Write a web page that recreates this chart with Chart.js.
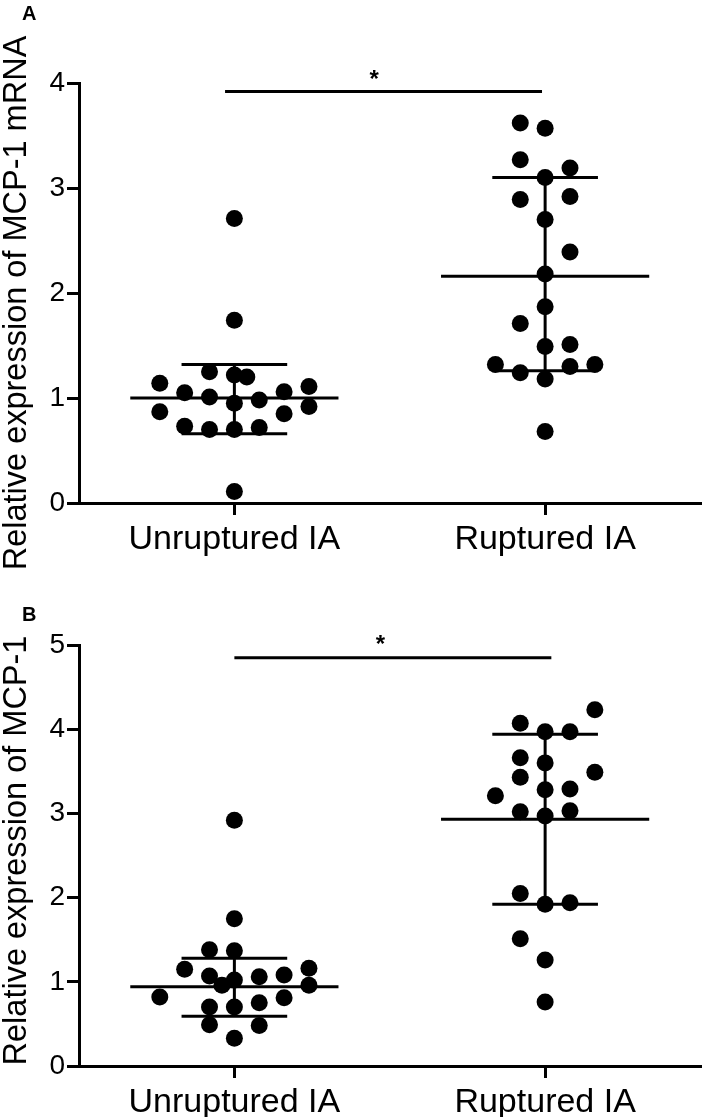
<!DOCTYPE html>
<html>
<head>
<meta charset="utf-8">
<script src="https://cdn.jsdelivr.net/npm/chart.js@4.4.1/dist/chart.umd.min.js"></script>
<style>
  html, body { margin: 0; padding: 0; background: #fff; }
  #wrap { position: relative; width: 709px; height: 1117px; }
  canvas { position: absolute; left: 0; }
  #chartA { top: 0; }
  #chartB { top: 559px; }
</style>
</head>
<body>
<div id="wrap">
  <canvas id="chartA" width="709" height="600"></canvas>
  <canvas id="chartB" width="709" height="558"></canvas>
</div>
<script>
// groups on the x axis
var groups = ["Unruptured IA", "Ruptured IA"];

// panel A - MCP-1 mRNA
var unrupA      = [2.71, 1.74, 1.25, 1.22, 1.20, 1.14, 1.11, 1.06, 1.05, 1.01, 0.98, 0.95, 0.92, 0.87, 0.85, 0.73, 0.72, 0.70, 0.70, 0.11];
var unrupASlot  = [0, 0, -1, 0, 0.5, -3, 3, 2, -2, -1, 1, 0, 3, -3, 2, -2, 1, -1, 0, 0];
var rupA        = [3.62, 3.57, 3.27, 3.19, 3.10, 2.92, 2.89, 2.70, 2.39, 2.18, 1.87, 1.71, 1.51, 1.49, 1.32, 1.32, 1.30, 1.24, 1.18, 0.68];
var rupASlot    = [-1, 0, -1, 1, 0, 1, -1, 0, 1, 0, 0, -1, 1, 0, -2, 2, 1, -1, 0, 0];
var meanA = [1.00, 2.16];
var sdHiA = [1.32, 3.10];
var sdLoA = [0.66, 1.26];

// panel B - MCP-1 protein
var unrupB      = [2.92, 1.75, 1.38, 1.37, 1.16, 1.15, 1.08, 1.07, 1.06, 1.02, 0.96, 0.96, 0.82, 0.81, 0.75, 0.70, 0.70, 0.49, 0.48, 0.33];
var unrupBSlot  = [0, 0, -1, 0, 3, -2, 2, -1, 1, 0, -0.5, 3, -3, 2, 1, -1, 0, -1, 1, 0];
var rupB        = [4.23, 4.07, 3.97, 3.97, 3.66, 3.60, 3.49, 3.43, 3.29, 3.28, 3.21, 3.03, 3.02, 2.97, 2.05, 1.94, 1.92, 1.51, 1.26, 0.76];
var rupBSlot    = [2, -1, 0, 1, -1, 0, 2, -1, 1, 0, -2, 1, -1, 0, -1, 1, 0, -1, 0, 0];
var meanB = [0.94, 2.93];
var sdHiB = [1.28, 3.94];
var sdLoB = [0.59, 1.92];

var yTicksA = [0, 1, 2, 3, 4];
var yTicksB = [0, 1, 2, 3, 4, 5];

var SLOT = 0.08;      // horizontal spacing of stacked dots, in group units
var MEAN_HALF = 0.335;
var CAP_HALF = 0.17;
var FONT = '"Liberation Sans", Arial, sans-serif';

function dots(vals, slots, g) {
    return vals.map(function (v, i) { return { x: g + slots[i] * SLOT, y: v }; });
}

function seg(x1, y1, x2, y2) {
    return {
        type: 'line',
        data: [{ x: x1, y: y1 }, { x: x2, y: y2 }],
        borderColor: '#000',
        borderWidth: 3,
        pointRadius: 0,
        fill: false,
        clip: false
    };
}

// panel letter, y title and the significance star
var notes = {
    id: 'notes',
    afterDatasetsDraw: function (chart, args, o) {
        var ctx = chart.ctx, x = chart.scales.x, y = chart.scales.y;
        ctx.save();
        ctx.fillStyle = '#000';
        ctx.font = 'bold 20px ' + FONT;
        ctx.textBaseline = 'alphabetic';
        ctx.textAlign = 'left';
        ctx.fillText(o.panel, 22, o.panelBase);

        ctx.font = 'bold 24px ' + FONT;
        ctx.textAlign = 'center';
        ctx.fillText('*', x.getPixelForValue(o.starX), y.getPixelForValue(o.starY) + 14);

        ctx.save();
        ctx.translate(26, (y.top + y.bottom) / 2 + o.titleShift);
        ctx.rotate(-Math.PI / 2);
        ctx.font = '32.5px ' + FONT;
        ctx.fillText(o.title, 0, 0);
        ctx.restore();
        ctx.restore();
    }
};

function makeChart(id, d) {
    var ds = [
        { type: 'scatter', data: dots(d.unrup, d.unrupSlot, 0), backgroundColor: '#000', borderWidth: 0, pointRadius: 8.5, clip: false },
        { type: 'scatter', data: dots(d.rup, d.rupSlot, 1), backgroundColor: '#000', borderWidth: 0, pointRadius: 8.5, clip: false }
    ];
    for (var g = 0; g < 2; g++) {
        ds.push(seg(g - MEAN_HALF, d.mean[g], g + MEAN_HALF, d.mean[g]));
        ds.push(seg(g - CAP_HALF, d.hi[g], g + CAP_HALF, d.hi[g]));
        ds.push(seg(g - CAP_HALF, d.lo[g], g + CAP_HALF, d.lo[g]));
        ds.push(seg(g, d.lo[g], g, d.hi[g]));
    }
    ds.push(seg(d.sigFrom, d.sigY, d.sigTo, d.sigY));

    return new Chart(document.getElementById(id), {
        type: 'scatter',
        data: { datasets: ds },
        plugins: [notes],
        options: {
            responsive: false,
            devicePixelRatio: 1,
            animation: false,
            layout: { padding: { top: d.padTop, right: 2, left: 0, bottom: 0 } },
            plugins: {
                legend: { display: false },
                tooltip: { enabled: false },
                notes: { panel: d.panel, panelBase: d.panelBase, starX: d.starX, starY: d.starY,
                         title: d.title, titleShift: d.titleShift }
            },
            scales: {
                x: {
                    type: 'linear',
                    min: -0.5,
                    max: 1.5,
                    afterBuildTicks: function (s) { s.ticks = [{ value: 0 }, { value: 1 }]; },
                    afterFit: function (s) { s.height = d.xHeight; },
                    ticks: {
                        callback: function (v) { return groups[v]; },
                        color: '#000',
                        font: { family: FONT, size: 34 },
                        padding: 4,
                        maxRotation: 0
                    },
                    grid: { drawOnChartArea: false, color: '#000', lineWidth: 3, tickLength: 12 },
                    border: { display: true, color: '#000', width: 3 }
                },
                y: {
                    min: 0,
                    max: d.yTicks[d.yTicks.length - 1],
                    afterBuildTicks: function (s) { s.ticks = d.yTicks.map(function (v) { return { value: v }; }); },
                    afterFit: function (s) { s.width = 79; },
                    ticks: {
                        color: '#000',
                        font: { family: FONT, size: 28 },
                        padding: 2
                    },
                    grid: { drawOnChartArea: false, color: '#000', lineWidth: 3, tickLength: 12 },
                    border: { display: true, color: '#000', width: 3 }
                }
            }
        }
    });
}

makeChart('chartA', {
    unrup: unrupA, unrupSlot: unrupASlot, rup: rupA, rupSlot: rupASlot,
    mean: meanA, hi: sdHiA, lo: sdLoA, yTicks: yTicksA,
    sigFrom: -0.03, sigTo: 0.99, sigY: 3.92, starX: 0.45, starY: 4.1,
    title: 'Relative expression of MCP-1 mRNA', titleShift: 10, panel: 'A', panelBase: 20,
    padTop: 83, xHeight: 97
});

makeChart('chartB', {
    unrup: unrupB, unrupSlot: unrupBSlot, rup: rupB, rupSlot: rupBSlot,
    mean: meanB, hi: sdHiB, lo: sdLoB, yTicks: yTicksB,
    sigFrom: 0, sigTo: 1.02, sigY: 4.85, starX: 0.47, starY: 5.08,
    title: 'Relative expression of MCP-1', titleShift: -5, panel: 'B', panelBase: 62,
    padTop: 86, xHeight: 51
});
</script>
</body>
</html>
